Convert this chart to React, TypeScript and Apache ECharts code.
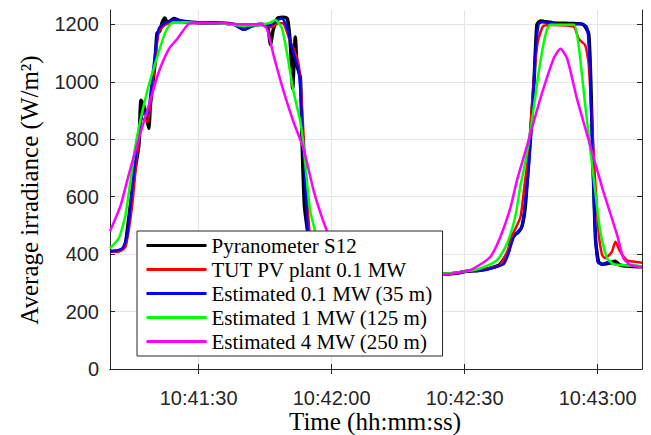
import React, { useEffect, useRef } from "react";
import * as echarts from "echarts";

// time in seconds after 10:41:00
const xTicks = [30, 60, 90, 120];
const yTicks = [0, 200, 400, 600, 800, 1000, 1200];

const seriesNames = [
  "Pyranometer S12",
  "TUT PV plant 0.1 MW",
  "Estimated 0.1 MW (35 m)",
  "Estimated 1 MW (125 m)",
  "Estimated 4 MW (250 m)",
];

const blackT = [10, 12, 13, 13.5, 14.6, 15.5, 16.5, 17.0, 17.6, 18.2, 18.75, 19.1, 20.1, 20.6, 21.2, 21.8, 22.4, 22.9, 24.4, 26, 30, 35, 38, 40.2, 42, 44, 45.5, 46.2, 46.8, 47.8, 48.9, 50, 50.7, 51.2, 51.8, 52.2, 52.95, 53.3, 53.85, 54.6, 55.3, 56, 57, 58, 60, 65, 70, 75, 80, 85, 88, 90.5, 93.5, 96, 98, 99.9, 100.7, 101.8, 102.9, 103.7, 104.5, 105.6, 106.3, 107.1, 110, 114, 116.8, 118, 118.7, 119.5, 120.2, 121, 122.5, 124, 125, 127, 130];
const blackV = [410, 412, 420, 438, 570, 680, 779, 936, 918, 883, 838, 918, 1057, 1169, 1176, 1208, 1222, 1206, 1220, 1212, 1206, 1205, 1200, 1183, 1195, 1200, 1195, 1130, 1180, 1222, 1225, 1220, 1127, 977, 1156, 1057, 1012, 803, 570, 476, 400, 370, 355, 350, 345, 338, 335, 332, 330, 330, 333, 340, 344, 352, 365, 410, 470, 472, 495, 570, 744, 988, 1199, 1212, 1205, 1203, 1199, 1165, 860, 456, 373, 365, 368, 375, 362, 358, 356];

const redT = [10, 12, 13.5, 15, 16.1, 17.3, 18.4, 19.9, 21, 22.5, 25, 30, 35, 38, 40.2, 42, 45, 46.5, 48, 49.2, 50.7, 51.4, 52.6, 53.3, 54.1, 55.0, 55.8, 56.8, 58, 60, 65, 70, 75, 80, 85, 90.5, 93.5, 96, 98, 99.9, 101, 102.6, 103.5, 104.5, 105.5, 106.5, 107.8, 110, 114.6, 115.7, 117.2, 118, 119.1, 120.2, 121, 121.7, 123.2, 124, 125.1, 126.6, 128.1, 130];
const redV = [408, 410, 426, 570, 744, 872, 860, 1034, 1173, 1199, 1207, 1205, 1203, 1200, 1185, 1195, 1200, 1190, 1205, 1202, 1138, 1115, 1057, 918, 686, 478, 400, 365, 352, 346, 338, 335, 332, 330, 330, 340, 344, 352, 362, 420, 473, 530, 640, 760, 988, 1140, 1195, 1198, 1192, 1150, 1127, 1057, 744, 478, 397, 386, 408, 443, 408, 379, 374, 370];

const blueT = [10, 12.75, 13.9, 15, 16.5, 17.6, 18.4, 19.5, 20.3, 21, 22.5, 24.8, 27, 30, 35, 38, 40.2, 42, 44, 46.2, 47.7, 48.8, 50, 51.1, 52.6, 53.3, 53.85, 54.6, 55.3, 56, 57, 60, 65, 70, 75, 80, 85, 90.5, 93.5, 96, 98.8, 99.9, 101, 101.8, 102.9, 103.7, 104.4, 105.2, 105.9, 106.7, 107.5, 112.3, 116.1, 117.6, 118.3, 118.9, 119.5, 120, 121, 122.1, 124, 127, 130];
const blueV = [408, 420, 466, 629, 825, 895, 883, 1011, 1115, 1185, 1205, 1217, 1210, 1205, 1203, 1198, 1181, 1193, 1198, 1197, 1214, 1220, 1185, 1115, 1034, 868, 709, 478, 400, 368, 352, 345, 338, 335, 332, 330, 330, 340, 342, 350, 365, 403, 456, 473, 496, 588, 686, 860, 1092, 1202, 1207, 1199, 1202, 1190, 1034, 686, 456, 373, 363, 372, 365, 360, 357];

const greenT = [10, 12, 13.5, 15.75, 18, 20.3, 22.5, 24, 27, 30, 35, 40, 44, 46, 47.3, 48.8, 50, 51.4, 52.95, 53.7, 54.5, 55.2, 56.3, 57.5, 59, 61, 65, 70, 75, 80, 85, 90.5, 93.5, 97.3, 99.6, 101.4, 102.6, 103.3, 104.8, 106.7, 108.2, 109.3, 114.6, 115.7, 117.2, 119.1, 120.6, 122.1, 123.6, 126, 130];
const greenV = [420, 456, 536, 779, 943, 1069, 1173, 1205, 1207, 1205, 1203, 1195, 1198, 1205, 1215, 1185, 1092, 965, 860, 772, 640, 547, 478, 410, 370, 352, 342, 336, 333, 331, 331, 341, 350, 379, 438, 530, 640, 690, 825, 1034, 1162, 1199, 1199, 1127, 918, 664, 478, 386, 365, 361, 358];

const magentaT = [10, 12.4, 14.2, 16.5, 18.75, 21, 23.3, 25.2, 27.8, 30, 35, 40, 44, 45.4, 46.9, 49.2, 51.4, 53.7, 56, 59, 61, 63, 66, 70, 75, 80, 85.3, 90, 92, 95.8, 98, 100.3, 101.8, 104.1, 107.1, 110.1, 111.6, 113.1, 115.3, 118.3, 121.3, 124.4, 125.8, 127.4, 130];
const magentaV = [480, 570, 675, 802, 918, 1034, 1115, 1150, 1202, 1205, 1205, 1200, 1200, 1185, 1092, 965, 860, 765, 617, 478, 420, 380, 352, 340, 333, 330, 329, 340, 350, 391, 458, 560, 657, 779, 943, 1082, 1115, 1082, 943, 779, 617, 466, 386, 362, 355];

const seriesT = [blackT, redT, blueT, greenT, magentaT];
const seriesV = [blackV, redV, blueV, greenV, magentaV];
const colors = ["#000000", "#ff0000", "#0000ff", "#00ff00", "#ff00ff"];
const widths = [3.5, 2.5, 2.5, 2.5, 2.5];

const pad = (n: number) => (n < 10 ? "0" + n : "" + n);
const fmtTime = (v: number) => {
  const total = 10 * 3600 + 41 * 60 + Math.round(v);
  const h = Math.floor(total / 3600);
  const m = Math.floor((total % 3600) / 60);
  const s = total % 60;
  return `${h}:${pad(m)}:${pad(s)}`;
};

export default function App() {
  const ref = useRef<HTMLDivElement>(null);
  useEffect(() => {
    if (!ref.current) return;
    const chart = echarts.init(ref.current, undefined, { renderer: "svg" });
    const axisColor = "#262626";
    const gridColor = "#e4e4e4";
    const tickFont = { fontFamily: "Liberation Sans, Arial, sans-serif", fontSize: 20, color: axisColor };
    const xBase = {
      type: "value",
      min: 10,
      max: 130,
      axisLine: { show: true, lineStyle: { color: axisColor, width: 1 } },
      axisTick: { show: true, inside: true, length: 5, customValues: xTicks, lineStyle: { color: axisColor } },
    };
    const yBase = {
      type: "value",
      min: 0,
      max: 1250,
      axisLine: { show: true, lineStyle: { color: axisColor, width: 1 } },
      axisTick: { show: true, inside: true, length: 5, customValues: yTicks, lineStyle: { color: axisColor } },
    };
    chart.setOption({
      animation: false,
      backgroundColor: "#ffffff",
      grid: { left: 110, right: 9, top: 10, bottom: 66 },
      xAxis: [
        {
          ...xBase,
          position: "bottom",
          axisLabel: { ...tickFont, margin: 19, customValues: xTicks, formatter: fmtTime },
          splitLine: { show: true, lineStyle: { color: gridColor, width: 1 } },
        },
        {
          ...xBase,
          position: "top",
          axisLabel: { show: false },
          splitLine: { show: false },
        },
      ],
      yAxis: [
        {
          ...yBase,
          position: "left",
          axisLabel: { ...tickFont, margin: 11, customValues: yTicks, formatter: (v: number) => String(v) },
          splitLine: { show: true, lineStyle: { color: gridColor, width: 1 } },
        },
        {
          ...yBase,
          position: "right",
          axisLabel: { show: false },
          splitLine: { show: false },
        },
      ],
      legend: {
        orient: "vertical",
        left: 137,
        top: 231,
        padding: [4, 10, 4, 8],
        backgroundColor: "#ffffff",
        borderColor: axisColor,
        borderWidth: 1,
        borderRadius: 0,
        itemWidth: 60,
        itemHeight: 14,
        itemGap: 3,
        itemStyle: { opacity: 0 },
        lineStyle: { width: 3 },
        textStyle: { fontFamily: "Liberation Serif, Times New Roman, serif", fontSize: 21, color: "#000000", lineHeight: 21 },
        data: seriesNames,
      },
      graphic: [
        {
          type: "text",
          x: 29,
          y: 190,
          rotation: Math.PI / 2,
          style: {
            text: "Average irradiance (W/m²)",
            fontFamily: "Liberation Serif, Times New Roman, serif",
            fontSize: 25,
            fill: "#000000",
            align: "center",
            verticalAlign: "middle",
          },
        },
        {
          type: "text",
          x: 375,
          y: 421,
          style: {
            text: "Time (hh:mm:ss)",
            fontFamily: "Liberation Serif, Times New Roman, serif",
            fontSize: 25,
            fill: "#000000",
            align: "center",
            verticalAlign: "middle",
          },
        },
      ],
      series: seriesNames.map((name, i) => ({
        name,
        type: "line",
        xAxisIndex: 0,
        yAxisIndex: 0,
        symbol: "none",
        smooth: 0.2,
        color: colors[i],
        lineStyle: { color: colors[i], width: widths[i] },
        data: seriesT[i].map((t, j) => [t, seriesV[i][j]]),
      })),
    });
    return () => chart.dispose();
  }, []);
  return (
    <div
      ref={ref}
      style={{ position: "fixed", left: 0, top: 0, width: 651, height: 435, background: "#fff" }}
    />
  );
}
